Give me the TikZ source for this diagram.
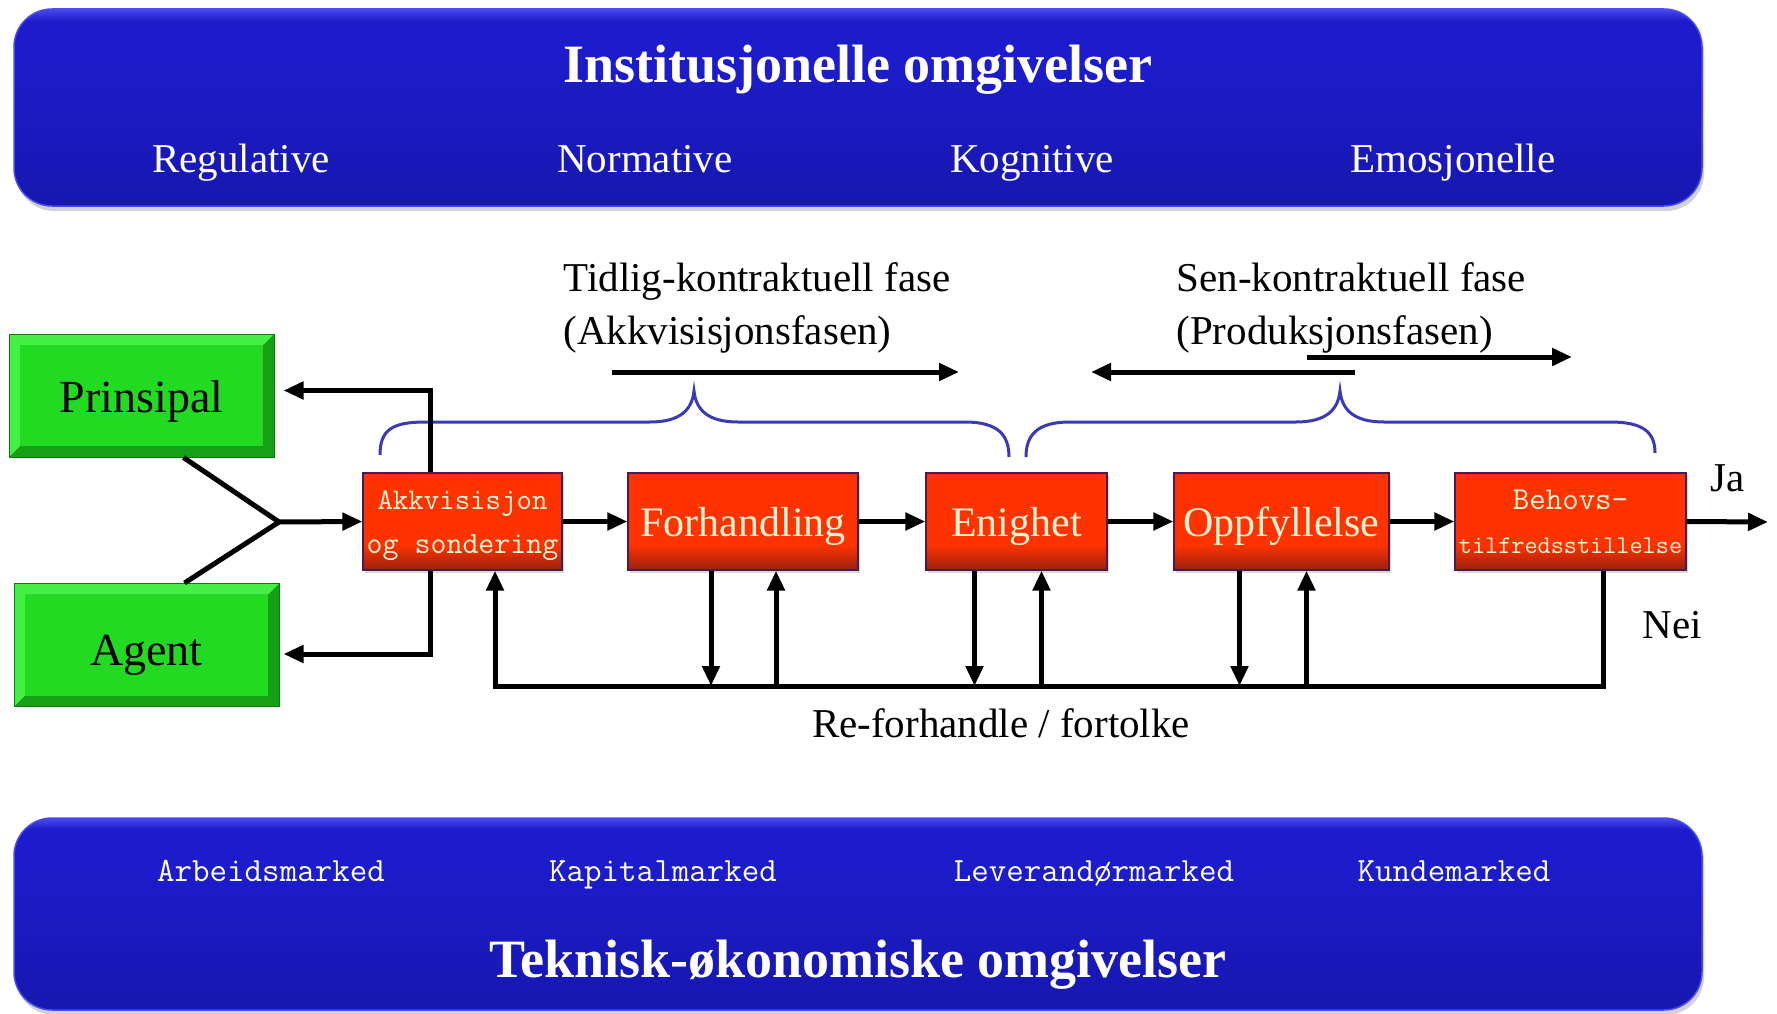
\documentclass[tikz,border=0pt]{standalone}
\usepackage{fontspec}
\setmainfont{Liberation Serif}
\usetikzlibrary{arrows.meta,shadows}
\definecolor{rmain}{HTML}{FF3300}
\definecolor{rdark}{HTML}{9A2010}
\definecolor{bmain}{HTML}{1C1CCC}
\definecolor{bdark}{HTML}{1717B0}
\definecolor{blight}{HTML}{4A4AF0}
\definecolor{cream}{HTML}{FFF3D6}
\definecolor{gmid}{HTML}{22DA22}
\definecolor{glight}{HTML}{44F044}
\definecolor{gdark}{HTML}{15A015}
\definecolor{gborder}{HTML}{0C7A0C}
\definecolor{bracecol}{HTML}{3A3AB8}
\definecolor{redborder}{HTML}{4A1A50}
\pgfdeclareverticalshading{redsh}{100bp}{color(0bp)=(rdark); color(25bp)=(rdark); color(38bp)=(rmain); color(75bp)=(rmain); color(100bp)=(rmain)}
\pgfdeclareverticalshading{bluesh}{100bp}{color(0bp)=(bdark); color(25bp)=(bdark); color(62bp)=(bmain); color(72bp)=(bmain); color(75bp)=(blight); color(100bp)=(blight)}
\begin{document}
\begin{tikzpicture}[x=1pt,y=-1pt,
  banner/.style={draw=blight, line width=1.5pt, rounded corners=38pt, shading=bluesh,
     minimum width=1688pt, inner sep=0pt,
     drop shadow={shadow xshift=2pt,shadow yshift=-5pt,opacity=0.35}},
  redbox/.style={draw=redborder, line width=1.2pt, shading=redsh, text=cream, inner sep=0pt,
     minimum height=97pt, align=center,
     drop shadow={shadow xshift=2pt,shadow yshift=-3pt,opacity=0.3}},
  redtxt/.style={text=cream, font=\fontsize{42}{46}\selectfont, text height=30pt, text depth=1pt},
  slabtxt/.style={text=cream, inner sep=0pt, anchor=base},
  greenbox/.style={draw=gborder, line width=1pt, fill=gdark, inner sep=0pt,
     minimum width=265pt, minimum height=123pt,
     font=\fontsize{46}{50}\selectfont,
     path picture={
       \fill[glight] (path picture bounding box.north west) -- (path picture bounding box.north east)
         -- ([xshift=-11pt,yshift=-11pt]path picture bounding box.north east)
         -- ([xshift=11pt,yshift=-11pt]path picture bounding box.north west)
         -- ([xshift=11pt,yshift=11pt]path picture bounding box.south west)
         -- (path picture bounding box.south west) -- cycle;
       \fill[gmid] ([xshift=11pt,yshift=-11pt]path picture bounding box.north west)
         rectangle ([xshift=-11pt,yshift=11pt]path picture bounding box.south east);
     }},
  ln/.style={line width=5pt},
  arr/.style={line width=5pt, -{Triangle[length=20pt,width=17pt]}},
  brace/.style={draw=bracecol, line width=3pt},
  btitle/.style={text=white, font=\fontsize{54}{60}\selectfont\bfseries, anchor=base},
  bsub/.style={text=white, font=\fontsize{41}{46}\selectfont, anchor=base},
  bslab/.style={text=white, font=\fontsize{34}{38}\selectfont\ttfamily, anchor=base},
  lbl/.style={font=\fontsize{41}{53}\selectfont}
]
\useasboundingbox (0,0) rectangle (1777,1014);
\fill[white] (0,0) rectangle (1777,1014);

% banners
\node[banner, minimum height=197pt] (top) at (858,107.5) {};
\node[banner, minimum height=192pt] (bot) at (858,914) {};
\node[btitle] (toptitle) at (858,83) {Institusjonelle omgivelser};
\node[bsub] (reg) at (241,172) {Regulative};
\node[bsub] (norm) at (645,172) {Normative};
\node[bsub] (kogn) at (1032,172) {Kognitive};
\node[bsub] (emo) at (1453,172) {Emosjonelle};
\node[bslab] (arb) at (271,881) {Arbeidsmarked};
\node[bslab] (kap) at (663,881) {Kapitalmarked};
\node[bslab] (lev) at (1094,881) {Leverandørmarked};
\node[bslab] (kun) at (1454,881) {Kundemarked};
\node[btitle] (bottitle) at (858,977) {Teknisk-økonomiske omgivelser};

% green boxes
\node[greenbox, text height=34pt, text depth=1pt] (prin) at (141.5,395.5) {Prinsipal};
\node[greenbox, text height=41pt, text depth=1pt] (agent) at (146.5,645) {Agent};

% red boxes
\node[redbox, minimum width=199pt] (akk) at (462.5,521.5) {};
\node[slabtxt, font=\fontsize{30}{34}\selectfont\ttfamily] (akk1) at (462.5,509) {Akkvisisjon};
\node[slabtxt, font=\fontsize{31}{34}\selectfont\ttfamily] (akk2) at (462.5,553) {og sondering};
\node[redbox, minimum width=230pt] (forh) at (743,521.5) {};
\node[redtxt] (forht) at (forh.center) {Forhandling};
\node[redbox, minimum width=181pt] (enig) at (1016.5,521.5) {};
\node[redtxt] (enigt) at (enig.center) {Enighet};
\node[redbox, minimum width=215pt] (oppf) at (1281.5,521.5) {};
\node[redtxt] (oppft) at (oppf.center) {Oppfyllelse};
\node[redbox, minimum width=231pt] (behov) at (1570.5,521.5) {};
\node[slabtxt, font=\fontsize{32}{34}\selectfont\ttfamily] (behov1) at (1570.5,509) {Behovs-};
\node[slabtxt, font=\fontsize{25.5}{30}\selectfont\ttfamily] (behov2) at (1570.5,553) {tilfredsstillelse};

% phase labels
\node[lbl, align=left, anchor=west] (tidlig) at (560,308) {Tidlig-kontraktuell fase\\(Akkvisisjonsfasen)};
\node[lbl, align=left, anchor=west] (sen) at (1173,308) {Sen-kontraktuell fase\\(Produksjonsfasen)};

% phase arrows
\coordinate (pa1) at (612,372); \coordinate (pa2) at (959,372);
\coordinate (pb1) at (1355,372); \coordinate (pb2) at (1091,372);
\coordinate (pc1) at (1307,357); \coordinate (pc2) at (1572,357);
\draw[arr] (pa1) -- (pa2);
\draw[arr] (pb1) -- (pb2);
\draw[arr] (pc1) -- (pc2);

% braces
\draw[brace] (380,455) .. controls (380,430) and (392,422) .. (425,422) -- (650,422)
  .. controls (680,422) and (692,410) .. (694,391)
  .. controls (696,410) and (708,422) .. (738,422) -- (965,422)
  .. controls (998,422) and (1009,435) .. (1009,457);
\draw[brace] (1026,457) .. controls (1026,435) and (1037,422) .. (1070,422) -- (1296,422)
  .. controls (1326,422) and (1338,410) .. (1340,391)
  .. controls (1342,410) and (1354,422) .. (1384,422) -- (1610,422)
  .. controls (1643,422) and (1655,432) .. (1655,453);

% inputs from principal and agent
\coordinate (j) at (279,522);
\draw[ln, line join=miter] ([xshift=42pt]prin.south) -- (j) -- ([xshift=38pt]agent.north);
\draw[arr] (j) -- (akk.west);

% feedback to principal and agent
\draw[arr] ([xshift=-32pt]akk.north) |- ([xshift=9pt,yshift=5pt]prin.east);
\draw[arr] ([xshift=-32pt]akk.south) |- ([xshift=4pt,yshift=-9pt]agent.east);

% main flow
\coordinate (out) at (1768,522);
\draw[arr] (akk.east) -- (forh.west);
\draw[arr] (forh.east) -- (enig.west);
\draw[arr] (enig.east) -- (oppf.west);
\draw[arr] (oppf.east) -- (behov.west);
\draw[arr] (behov.east) -- (out);
\node[lbl] (ja) at (1728,478) {Ja};
\node[lbl] (nei) at (1672,625) {Nei};

% renegotiation loop
\coordinate (fbL) at (495,686);
\draw[arr, line join=miter] ([xshift=33pt]behov.south) |- (fbL) -- ([xshift=32.5pt]akk.south);
\coordinate (f1) at ([xshift=-32pt]forh.south);
\coordinate (f2) at ([xshift=33pt]forh.south);
\coordinate (e1) at ([xshift=-42pt]enig.south);
\coordinate (e2) at ([xshift=25pt]enig.south);
\coordinate (o1) at ([xshift=-42pt]oppf.south);
\coordinate (o2) at ([xshift=25pt]oppf.south);
\draw[arr] (f1) -- (f1 |- fbL);
\draw[arr] (f2 |- fbL) -- (f2);
\draw[arr] (e1) -- (e1 |- fbL);
\draw[arr] (e2 |- fbL) -- (e2);
\draw[arr] (o1) -- (o1 |- fbL);
\draw[arr] (o2 |- fbL) -- (o2);
\node[lbl] (refor) at (1001,723) {Re-forhandle / fortolke};
\end{tikzpicture}
\end{document}
